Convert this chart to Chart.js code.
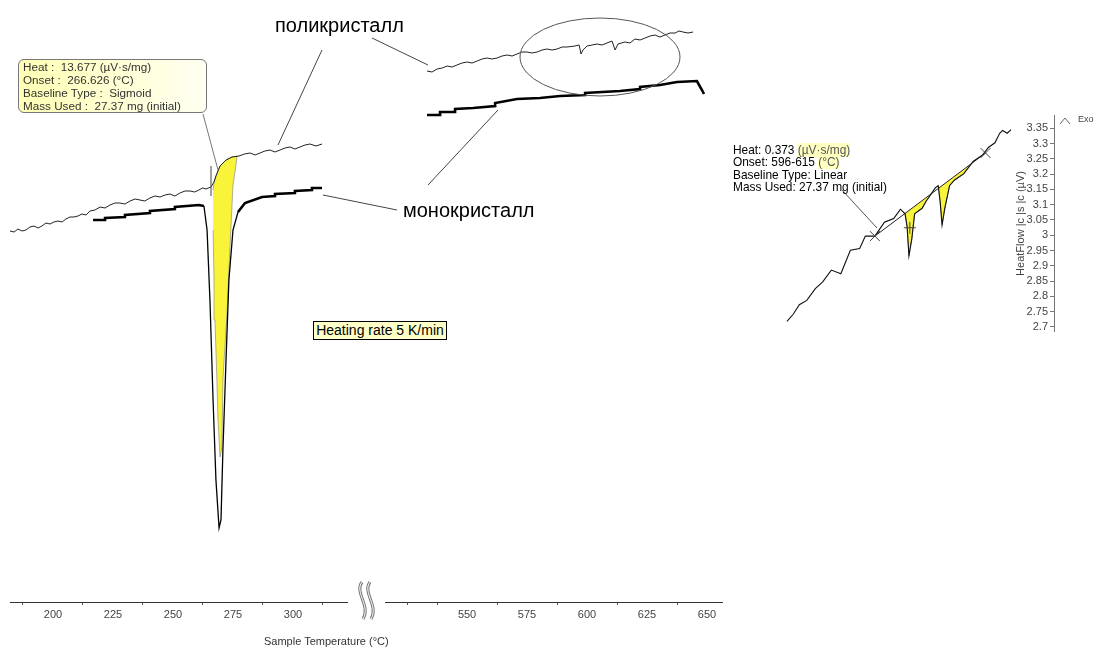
<!DOCTYPE html>
<html>
<head>
<meta charset="utf-8">
<script src="https://cdn.jsdelivr.net/npm/chart.js@4.4.1/dist/chart.umd.min.js"></script>
<style>
  body { margin: 0; background: #fff; width: 1094px; height: 654px; overflow: hidden; position: relative;
         font-family: 'Liberation Sans', Arial, sans-serif; }
  canvas, .abs { position: absolute; }
  .lbl { position: absolute; font-size: 20px; color: #000; white-space: nowrap; line-height: 22px; }
  #box1 { left: 18px; top: 59px; width: 183px; height: 52px; border: 1px solid #777; border-radius: 6px;
          background: linear-gradient(to right, #ffffb4, #fffff2); font-size: 11.7px; line-height: 13px;
          color: #333; padding-left: 4px; white-space: pre; box-sizing: content-box; }
  #box2 { left: 733px; top: 144px; font-size: 11.9px; line-height: 12.4px; color: #000; white-space: pre; }
  #box2 span { background: #ffffc0; color: #555; }
  #rate { left: 313px; top: 321px; width: 132px; height: 17px; border: 1px solid #000; background: #ffffc8;
          font-size: 14px; line-height: 17px; text-align: center; white-space: nowrap; }
  #xtitle { left: 264px; top: 635px; font-size: 11px; color: #333; white-space: nowrap; }
  #exo { left: 1078px; top: 114px; font-size: 9px; color: #444; }
  svg { position: absolute; left: 0; top: 0; pointer-events: none; }
</style>
</head>
<body>
<canvas id="left" width="360" height="654" style="left:0;top:0"></canvas>
<canvas id="mid" width="370" height="654" style="left:370px;top:0"></canvas>
<canvas id="inset" width="294" height="250" style="left:760px;top:100px"></canvas>
<canvas id="axis" width="82" height="233" style="left:1012px;top:107px"></canvas>

<svg width="1094" height="654">
  <g stroke="#444" stroke-width="1" fill="none">
    <line x1="322" y1="50" x2="278" y2="145"/>
    <line x1="372" y1="38" x2="428" y2="65"/>
    <line x1="323" y1="195" x2="397" y2="210"/>
    <line x1="428" y1="185" x2="498" y2="110"/>
    <line x1="203" y1="114" x2="218" y2="170" stroke="#777"/>
    <line x1="211" y1="166" x2="211" y2="196"/>
    <line x1="842" y1="190" x2="877" y2="228" stroke="#555"/>
    <ellipse cx="600" cy="57" rx="80" ry="39" stroke="#555"/>
    <polyline points="1060,124 1065,118 1070,124" stroke="#666"/>
  </g>
  <g fill="none">
    <path d="M362 582 C354 592 371 606 363 619" stroke="#777" stroke-width="3"/>
    <path d="M362 582 C354 592 371 606 363 619" stroke="#fff" stroke-width="1"/>
    <path d="M370 582 C362 592 379 606 371 619" stroke="#777" stroke-width="3"/>
    <path d="M370 582 C362 592 379 606 371 619" stroke="#fff" stroke-width="1"/>
  </g>
</svg>

<div class="lbl" style="left:275px;top:14px">поликристалл</div>
<div class="lbl" style="left:403px;top:199px">монокристалл</div>
<div id="box1" class="abs">Heat :  13.677 (µV·s/mg)
Onset :  266.626 (°C)
Baseline Type :  Sigmoid
Mass Used :  27.37 mg (initial)</div>
<div id="box2" class="abs">Heat: 0.373 <span>(µV·s/mg)</span>
Onset: 596-615 <span>(°C)</span>
Baseline Type: Linear
Mass Used: 27.37 mg (initial)</div>
<div id="rate" class="abs">Heating rate 5 K/min</div>
<div id="xtitle" class="abs">Sample Temperature (°C)</div>
<div id="exo" class="abs">Exo</div>

<script>
// --- данные (температура, °C / тепловой поток, усл. ед.) ---
const leftTicks = [187.5, 200, 212.5, 225, 237.5, 250, 262.5, 275, 287.5, 300, 312.5];
const leftLabels = [200, 225, 250, 275, 300];
const midTicks = [525, 537.5, 550, 562.5, 575, 587.5, 600, 612.5, 625, 637.5, 650];
const midLabels = [550, 575, 600, 625, 650];
const insetYTicks = [2.7, 2.75, 2.8, 2.85, 2.9, 2.95, 3, 3.05, 3.1, 3.15, 3.2, 3.25, 3.3, 3.35];

// поликристалл, 180-315 °C
const polyLeftT = [182.1, 183.8, 185.4, 187.1, 188.75, 190.4, 192.1, 193.8, 195.4, 197.1, 198.75, 200.4, 202.1,
    203.8, 205.4, 207.1, 208.75, 210.4, 212.1, 213.8, 215.4, 217.5, 219.6, 221.7, 223.75, 225.8, 227.9, 230,
    232.1, 234.2, 236.25, 238.3, 240.4, 242.5, 244.6, 246.7, 248.75, 250.8, 252.9, 255, 257.1, 259, 260.8,
    262.3, 263.75, 265.8, 267.1, 267.9, 269.6, 272.1, 274.6, 277.5, 279.8, 282.1, 284.2, 286.25, 288.3, 290.4,
    292.5, 294.6, 296.7, 298.75, 300.8, 302.9, 305, 307.1, 309.6, 312.1];
const polyLeftV = [3.71, 3.70, 3.73, 3.71, 3.72, 3.75, 3.76, 3.74, 3.76, 3.79, 3.78, 3.80, 3.81,
    3.80, 3.83, 3.85, 3.85, 3.86, 3.88, 3.87, 3.91, 3.92, 3.95, 3.94, 3.97, 3.99, 3.99, 3.98,
    4.01, 4.03, 4.02, 4.01, 4.04, 4.06, 4.05, 4.07, 4.08, 4.06, 4.09, 4.11, 4.11, 4.10, 4.12,
    4.14, 4.13, 4.15, 4.20, 4.26, 4.36, 4.42, 4.45, 4.46, 4.48, 4.49, 4.47, 4.49, 4.51, 4.52,
    4.50, 4.52, 4.54, 4.55, 4.53, 4.55, 4.57, 4.58, 4.56, 4.58];

// монокристалл, 215-315 °C
const monoLeftT = [216.7, 221.7, 221.7, 230, 230, 240.4, 240.4, 250.8, 250.8, 260.8, 262.9, 264.2, 265.4, 266.7,
    267.9, 269.2, 270, 270.8, 272.1, 273.3, 275, 277.1, 280, 287.1, 292.5, 292.5, 300.8, 300.8, 307.9, 307.9, 312.1];
const monoLeftV = [3.82, 3.82, 3.84, 3.85, 3.87, 3.89, 3.91, 3.93, 3.95, 3.97, 3.96, 3.72, 3.02, 2.02,
    1.22, 0.74, 0.82, 1.52, 2.42, 3.22, 3.72, 3.90, 3.99, 4.05, 4.06, 4.08, 4.09, 4.11, 4.12, 4.14, 4.14];

// площадь пика (Sigmoid)
const peakAreaT = [266.7, 267.1, 267.9, 269.6, 272.1, 274.6, 276.7, 276.25, 275, 273.75, 272.5, 270.8, 270.4,
    269.6, 268.75, 268.3, 267.5, 267.1, 266.7];
const peakAreaV = [4.12, 4.20, 4.26, 4.36, 4.42, 4.45, 4.46, 4.37, 4.17, 3.55, 2.89, 2.22, 1.55,
    1.45, 1.82, 2.22, 2.82, 3.22, 3.72];

// 530-650 °C
const polyMidT = [533.3, 535.4, 537.5, 539.6, 541.7, 543.75, 545.8, 547.9, 550, 552.1, 554.2, 556.25, 558.3,
    560.4, 562.5, 564.6, 566.7, 568.75, 570.8, 572.9, 575, 577.1, 579.2, 581.25, 583.3, 585.4, 587.5, 589.6,
    591.7, 595, 596.7, 597.5, 598.3, 600, 602.1, 604.2, 606.25, 608.3, 610.4, 611.7, 612.9, 615.8, 617.9, 620,
    622.1, 624.2, 626.25, 628.3, 630.4, 632.5, 634.6, 636.7, 638.3, 640, 642.1, 644.2];
const polyMidV = [5.31, 5.30, 5.33, 5.34, 5.36, 5.35, 5.37, 5.39, 5.40, 5.39, 5.41, 5.43, 5.44,
    5.43, 5.44, 5.46, 5.47, 5.46, 5.48, 5.50, 5.50, 5.49, 5.50, 5.52, 5.53, 5.52, 5.53, 5.55,
    5.55, 5.56, 5.57, 5.48, 5.52, 5.56, 5.57, 5.58, 5.57, 5.59, 5.61, 5.52, 5.58, 5.60, 5.59, 5.63,
    5.62, 5.64, 5.66, 5.67, 5.65, 5.67, 5.69, 5.69, 5.71, 5.70, 5.69, 5.70];
const monoMidT = [533.3, 538.75, 538.75, 545, 545, 552.5, 561.7, 561.7, 570.8, 580.4, 588.75, 599.2, 599.2,
    613.75, 622.1, 622.1, 630.4, 637.5, 645.8, 647.9, 648.75];
const monoMidV = [4.87, 4.87, 4.90, 4.90, 4.93, 4.94, 4.96, 4.99, 5.03, 5.04, 5.06, 5.07, 5.09,
    5.11, 5.13, 5.15, 5.17, 5.20, 5.21, 5.12, 5.08];

// врезка: HeatFlow, µV
const insetT = [543.75, 546.5, 549.2, 552.5, 556.25, 559.5, 563.3, 567.5, 571.7, 575.8, 578.3, 582.5, 586.7,
    590.8, 593.75, 595.8, 596.7, 597.5, 598.75, 600, 603.3, 605, 609.2, 610.4, 611.25, 612.1, 613.3, 615.4,
    617.5, 621.7, 625.8, 630, 632.5, 635.4, 637.5, 638.75, 640.8, 642.5];
const insetV = [2.722, 2.745, 2.776, 2.790, 2.828, 2.850, 2.888, 2.876, 2.952, 2.958, 2.998, 2.998, 3.043,
    3.055, 3.085, 3.070, 3.028, 2.934, 2.988, 3.070, 3.088, 3.110, 3.155, 3.161, 3.110, 3.034, 3.088, 3.161,
    3.179, 3.200, 3.240, 3.261, 3.285, 3.300, 3.331, 3.340, 3.331, 3.343];
const insetBaseT = [582.5, 631.25];
const insetBaseV = [2.998, 3.267];
const insetMarkT = [582.5, 631.25];
const insetMarkV = [2.998, 3.267];

Chart.defaults.font.family = "'Liberation Sans', Arial, sans-serif";
Chart.defaults.font.size = 11;
Chart.defaults.color = '#444';

const pts = (T, V) => T.map((t, i) => ({ x: t, y: V[i] }));

function line(T, V, extra) {
    return Object.assign({
        data: pts(T, V), showLine: true, pointRadius: 0, borderColor: '#222',
        borderWidth: 1, tension: 0, fill: false
    }, extra || {});
}

function xAxis(min, max, ticks, labels) {
    return {
        type: 'linear', min, max,
        border: { display: true, color: '#333', width: 1 },
        grid: {
            drawOnChartArea: false, tickLength: 3,
            tickColor: ctx => (ctx.tick && labels.includes(ctx.tick.value)) ? 'rgba(0,0,0,0)' : '#555'
        },
        ticks: {
            autoSkip: false, maxRotation: 0, padding: 3, color: '#444',
            callback: v => labels.includes(v) ? String(v) : ''
        },
        afterBuildTicks: s => { s.ticks = ticks.map(v => ({ value: v })); },
        afterFit: s => { s.height = 52; }
    };
}

function baseOptions(xScale, pad) {
    return {
        responsive: false, animation: false,
        layout: { padding: pad },
        plugins: { legend: { display: false }, tooltip: { enabled: false } },
        scales: { x: xScale, y: { display: false, min: 0, max: 6.02 } }
    };
}

const peakThin = ctx => (ctx.p0.parsed.x >= 262.9 && ctx.p1.parsed.x <= 277.1) ? 1.3 : 2.6;

new Chart(document.getElementById('left'), {
    type: 'scatter',
    data: {
        datasets: [
            line(monoLeftT, monoLeftV, { borderColor: '#000', borderWidth: 2.6, segment: { borderWidth: peakThin }, order: 1 }),
            line(polyLeftT, polyLeftV, { order: 2 }),
            line(peakAreaT, peakAreaV, { fill: 'shape', backgroundColor: '#f9f43a', borderColor: 'rgba(130,130,130,0.8)', borderWidth: 0.8, order: 3 })
        ]
    },
    options: baseOptions(xAxis(182.1, 322.5, leftTicks, leftLabels), { left: 10, right: 13, top: 0, bottom: 0 })
});

new Chart(document.getElementById('mid'), {
    type: 'scatter',
    data: {
        datasets: [
            line(monoMidT, monoMidV, { borderColor: '#000', borderWidth: 2.6, order: 1 }),
            line(polyMidT, polyMidV, { order: 2 })
        ]
    },
    options: baseOptions(xAxis(515.8, 656.25, midTicks, midLabels), { left: 15, right: 18, top: 0, bottom: 0 })
});

const areaT = insetT.filter(t => t >= 582.5 && t <= 631.25);
const areaV = insetV.filter((v, i) => insetT[i] >= 582.5 && insetT[i] <= 631.25);

new Chart(document.getElementById('inset'), {
    type: 'scatter',
    data: {
        datasets: [
            line(insetT, insetV, { borderColor: '#111', borderWidth: 1.1, order: 1 }),
            line(insetBaseT, insetBaseV, { borderColor: '#222', borderWidth: 1, order: 2 }),
            line(areaT, areaV, { borderColor: 'rgba(140,140,140,0.9)', borderWidth: 0.8, order: 4,
                fill: { target: 1, above: 'rgba(0,0,0,0)', below: '#f9f43a' } }),
            { data: pts(insetMarkT, insetMarkV), pointStyle: 'crossRot', pointRadius: 7, borderColor: '#444', borderWidth: 1, order: 0 },
            { data: [{ x: 597.9, y: 3.025 }], pointStyle: 'cross', pointRadius: 6, borderColor: '#444', borderWidth: 1, order: 0 }
        ]
    },
    options: {
        responsive: false, animation: false,
        layout: { padding: 0 },
        plugins: { legend: { display: false }, tooltip: { enabled: false } },
        scales: {
            x: { display: false, type: 'linear', min: 535.4, max: 657.9 },
            y: { display: false, min: 2.6552, max: 3.4127 }
        }
    }
});

new Chart(document.getElementById('axis'), {
    type: 'scatter',
    data: { datasets: [{ data: [] }] },
    options: {
        responsive: false, animation: false,
        layout: { padding: 0 },
        plugins: { legend: { display: false }, tooltip: { enabled: false } },
        scales: {
            x: { display: false, min: 0, max: 1 },
            y: {
                position: 'left', min: 2.6855, max: 3.3915,
                border: { display: true, color: '#777', width: 1 },
                grid: { drawOnChartArea: false, tickLength: 4, tickColor: '#777' },
                ticks: { padding: 2, color: '#444', callback: v => String(v) },
                title: { display: true, text: 'HeatFlow |c |s |c (µV)', color: '#444', padding: 2, font: { size: 11 } },
                afterBuildTicks: s => { s.ticks = insetYTicks.map(v => ({ value: v })); },
                afterFit: s => { s.width = 42; }
            }
        }
    }
});
</script>
</body>
</html>
